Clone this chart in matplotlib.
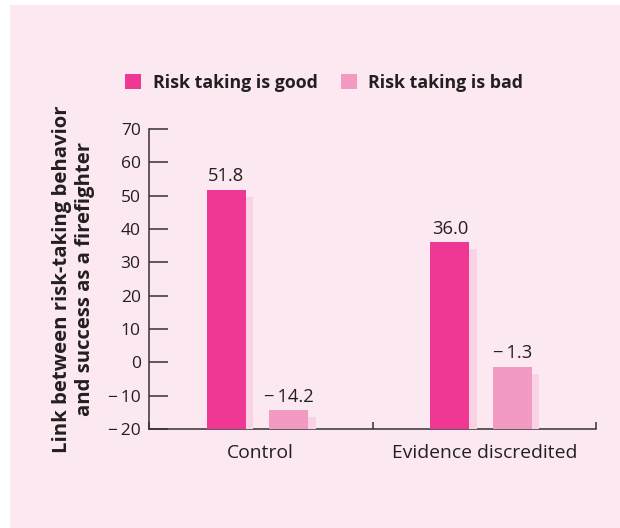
import matplotlib
matplotlib.use("Agg")
import matplotlib.pyplot as plt
import matplotlib.patheffects as pe
from matplotlib.patches import Patch, Rectangle
import numpy as np

# Data
conditions = ["Control", "Evidence discredited"]
series_names = ["Risk taking is good", "Risk taking is bad"]
good_values = [51.8, 36.0]
bad_values = [-14.2, -1.3]
y_ticks = [-20, -10, 0, 10, 20, 30, 40, 50, 60, 70]

# Style
plt.rcParams["font.family"] = ["Open Sans", "DejaVu Sans"]
bg = "#fce8f1"
text_col = "#231f20"
axis_col = "#333333"
good_col = "#ee3893"
bad_col = "#f39ac3"
shadow_col = "#f9d3e3"

W, H = 620, 528
fig = plt.figure(figsize=(W / 100, H / 100), dpi=100, facecolor="white")
fig.patches.append(Rectangle((10 / W, 0), 1 - 10 / W, 1 - 5 / H,
                             transform=fig.transFigure, facecolor=bg,
                             edgecolor="none", zorder=-10))

ax = fig.add_axes([149 / W, 1 - 429 / H, (596 - 149) / W, 300 / H])
ax.set_facecolor("none")
ax.set_xlim(0, 2)
ax.set_ylim(-20, 70)

base = -20
width = 0.175
centers = np.arange(len(conditions)) + 0.5
shadow = [pe.SimplePatchShadow(offset=(5.3, -5.0), shadow_rgbFace=shadow_col, alpha=1.0),
          pe.Normal()]

for vals, off, col, name in [(good_values, -0.154, good_col, series_names[0]),
                             (bad_values, 0.125, bad_col, series_names[1])]:
    bars = ax.bar(centers + off, np.array(vals) - base, bottom=base, width=width,
                  color=col, label=name, zorder=3)
    for b, v in zip(bars, vals):
        b.set_path_effects(shadow)
        lbl = f"{v:.1f}".replace("-", "\u2212\u2009")
        ax.annotate(lbl, (b.get_x() + b.get_width() / 2, v), xytext=(0, 3.0),
                    textcoords="offset points", ha="center", va="bottom",
                    fontsize=13.2, color=text_col)

# Axes styling
for s in ["top", "right"]:
    ax.spines[s].set_visible(False)
for s in ["left", "bottom"]:
    ax.spines[s].set_color(axis_col)
    ax.spines[s].set_linewidth(1.1)

ax.set_yticks(y_ticks)
ax.set_yticklabels([f"{t}".replace("-", "\u2212\u2009") for t in y_ticks])
ax.tick_params(axis="y", direction="in", length=14, width=1.1, color=axis_col,
               labelsize=12.5, labelcolor=text_col, pad=6)

ax.set_xticks([0, 1, 2])
ax.set_xticklabels([])
ax.set_xticks(centers, minor=True)
ax.set_xticklabels(conditions, minor=True)
ax.tick_params(axis="x", which="major", direction="in", length=5, width=1.1, color=axis_col)
ax.tick_params(axis="x", which="minor", length=0, pad=11, labelsize=13.9, labelcolor=text_col)

ax.set_ylabel("Link between risk-taking behavior\nand success as a firefighter",
              fontsize=14.6, fontweight="bold", color=text_col, labelpad=9,
              linespacing=1.2)

handles = [Patch(facecolor=good_col), Patch(facecolor=bad_col)]
fig.legend(handles, series_names, loc="center left",
           bbox_to_anchor=(125 / W, 1 - 82.5 / H), ncol=2, frameon=False,
           borderpad=0, borderaxespad=0, handlelength=0.9, handleheight=0.9,
           handletextpad=0.65, columnspacing=1.3,
           prop={"size": 12.8, "weight": "bold"}, labelcolor=text_col)

fig.savefig("out.png", dpi=100, facecolor="white")
